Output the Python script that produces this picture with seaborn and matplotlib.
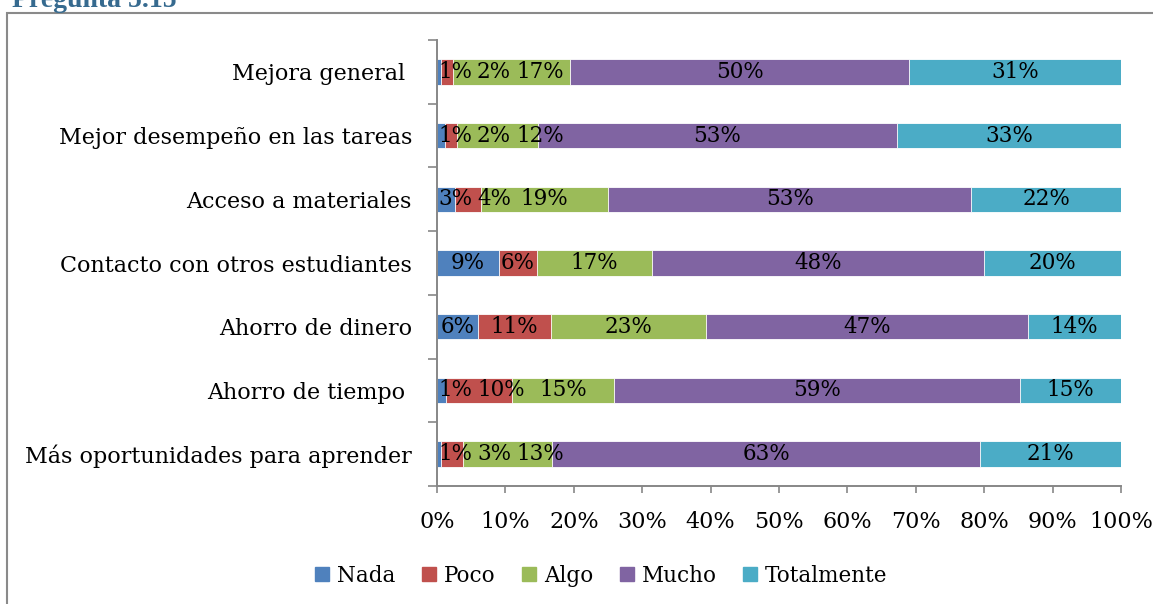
import numpy as np
import matplotlib
matplotlib.use("Agg")
import matplotlib.pyplot as plt
from matplotlib.lines import Line2D
from matplotlib.patches import Rectangle
from matplotlib.ticker import NullFormatter, FuncFormatter
import seaborn as sns

# Survey items (top to bottom) and answer levels
categories = [
    "Mejora general ",
    "Mejor desempeño en las tareas",
    "Acceso a materiales",
    "Contacto con otros estudiantes",
    "Ahorro de dinero",
    "Ahorro de tiempo ",
    "Más oportunidades para aprender",
]
levels = ["Nada", "Poco", "Algo", "Mucho", "Totalmente"]

# Percentage of answers per level (each row sums to 100)
nada       = [0.6, 1.2, 2.6, 9.0, 6.0, 1.3, 0.6]
poco       = [1.7, 1.7, 3.8, 5.6, 10.6, 9.6, 3.2]
algo       = [17.2, 11.8, 18.6, 16.9, 22.7, 15.0, 13.0]
mucho      = [49.5, 52.6, 53.1, 48.4, 47.1, 59.4, 62.6]
totalmente = [31.0, 32.7, 21.9, 20.1, 13.6, 14.7, 20.6]

xticks = [0, 10, 20, 30, 40, 50, 60, 70, 80, 90, 100]

colors = ["#4F81BD", "#C0504D", "#9BBB59", "#8064A2", "#4BACC6"]

sns.set_style("white")
plt.rcParams["font.family"] = ["DejaVu Serif", "DejaVu Sans"]
plt.rcParams["text.color"] = "black"
FS_AXIS = 16
FS_VAL = 15.5
FS_LEG = 15.5
GRAY = "#878787"

series = np.array([nada, poco, algo, mucho, totalmente])
cum = np.cumsum(series, axis=0)
n = len(categories)

fig = plt.figure(figsize=(11.53, 6.04), dpi=100)
ax = fig.add_axes([437 / 1153, 1 - 486 / 604, (1121 - 437) / 1153, (486 - 40) / 604])

# Stacked bars: draw cumulative totals from the widest down
for i in range(len(levels) - 1, -1, -1):
    sns.barplot(x=cum[i], y=categories, orient="h", color=colors[i],
                saturation=1, width=0.4, edgecolor="white", linewidth=0.6,
                ax=ax)

ax.set_xlim(0, 100)
ax.set_ylim(n - 0.5, -0.5)
ax.set_xlabel("")
ax.set_ylabel("")

# Category boundaries carry the tick marks, labels sit at the centres
ax.set_yticks(np.arange(-0.5, n, 1))
ax.yaxis.set_major_formatter(NullFormatter())
ax.set_yticks(np.arange(n), labels=categories, minor=True)
ax.tick_params(axis="y", which="major", direction="out", length=6.5,
               width=1.2, color=GRAY, left=True)
ax.tick_params(axis="y", which="minor", length=0, pad=18,
               labelsize=FS_AXIS, labelcolor="black")

ax.set_xticks(xticks)
ax.xaxis.set_major_formatter(FuncFormatter(lambda v, p: f"{v:.0f}%"))
ax.tick_params(axis="x", direction="out", length=5, width=1.2, color=GRAY,
               bottom=True, pad=13, labelsize=FS_AXIS, labelcolor="black")

for side in ("top", "right"):
    ax.spines[side].set_visible(False)
for side in ("left", "bottom"):
    ax.spines[side].set_color(GRAY)
    ax.spines[side].set_linewidth(1.4)
ax.grid(False)

# Value labels, nudged right when neighbouring labels would collide
fig.canvas.draw()
renderer = fig.canvas.get_renderer()
gap = 5
x0_px = ax.transData.transform((0, 0))[0]
for r in range(n):
    prev_right = x0_px - gap + 1
    for i in range(len(levels)):
        val = series[i, r]
        left = cum[i, r] - val
        cx = left + val / 2
        t = ax.text(cx, r, f"{val:.0f}%", ha="center", va="center",
                    fontsize=FS_VAL, color="black")
        w = t.get_window_extent(renderer).width
        cpx = ax.transData.transform((cx, r))[0]
        lpx = cpx - w / 2
        if lpx < prev_right + gap:
            lpx = prev_right + gap
            cpx = lpx + w / 2
            t.set_x(ax.transData.inverted().transform((cpx, 0))[0])
        prev_right = lpx + w

# Legend
handles = [Line2D([0], [0], marker="s", linestyle="none", markersize=10,
                  markerfacecolor=c, markeredgecolor=c) for c in colors]
leg = fig.legend(handles, levels, loc="center", bbox_to_anchor=(0.52, 0.047),
                 ncol=5, frameon=False, fontsize=FS_LEG, handletextpad=0.2,
                 columnspacing=1.05, handlelength=1.0)
for txt in leg.get_texts():
    txt.set_color("black")

# Outer frame and heading
fig.patches.append(Rectangle((7 / 1153, -0.02), 1.1, 1 - 13 / 604 + 0.02,
                             transform=fig.transFigure, fill=False,
                             edgecolor="#8a8a8a", linewidth=1.5))
fig.text(12 / 1153, 1 - 7 / 604, "Pregunta 5.15", ha="left", va="baseline",
         fontsize=20, fontweight="bold", color="#366A8F",
         family=["Liberation Serif", "DejaVu Serif"])

fig.savefig("out.png", dpi=100)
